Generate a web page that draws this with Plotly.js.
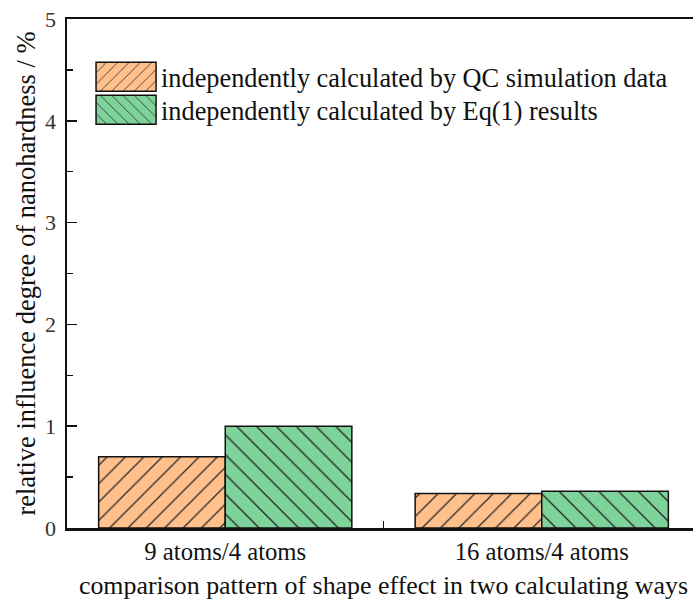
<!DOCTYPE html>
<html>
<head>
<meta charset="utf-8">
<script src="https://cdn.plot.ly/plotly-3.0.1.min.js"></script>
<style>
html,body{margin:0;padding:0;overflow:hidden;background:#fff;width:693px;height:609px;}
#chart{width:700px;height:609px;}
</style>
</head>
<body>
<div id="chart"></div>
<script>
// ---- data ----
var categories = ['9 atoms/4 atoms', '16 atoms/4 atoms'];
var seriesNames = ['independently calculated by QC simulation data',
                   'independently calculated by Eq(1) results'];
var qcValues = [0.70, 0.34];
var eqValues = [1.00, 0.36];
var yTickVals = [0, 1, 2, 3, 4, 5];

var FONT = "'Liberation Serif', 'Times New Roman', serif";
var ORANGE = '#FFC08C';
var GREEN = '#7ED39B';

var traceQC = {
  type: 'bar',
  name: seriesNames[0],
  x: categories,
  y: qcValues,
  marker: {
    color: ORANGE,
    line: {color: '#111', width: 1.5},
    pattern: {shape: '/', fgcolor: '#2a2a2a', bgcolor: ORANGE, size: 13, solidity: 0.1}
  },
  hoverinfo: 'skip'
};
var traceEq = {
  type: 'bar',
  name: seriesNames[1],
  x: categories,
  y: eqValues,
  marker: {
    color: GREEN,
    line: {color: '#111', width: 1.5},
    pattern: {shape: '\\', fgcolor: '#2a2a2a', bgcolor: GREEN, size: 14, solidity: 0.1}
  },
  hoverinfo: 'skip'
};

var layout = {
  width: 700,
  height: 609,
  margin: {l: 67, r: 0, t: 19, b: 81, pad: 0},
  paper_bgcolor: '#fff',
  plot_bgcolor: '#fff',
  barmode: 'group',
  bargap: 0.2,
  bargroupgap: 0,
  showlegend: true,
  font: {family: FONT, color: '#111', size: 24},
  legend: {
    x: 0.038, y: 0.925, xanchor: 'left', yanchor: 'top',
    bgcolor: 'rgba(0,0,0,0)', borderwidth: 0,
    font: {family: FONT, size: 26.3, color: '#111'},
    itemwidth: 60, tracegroupgap: 0,
    traceorder: 'normal'
  },
  xaxis: {
    type: 'category',
    range: [-0.5, 1.5],
    showline: true, linecolor: '#111', linewidth: 2.5,
    mirror: true,
    showgrid: false, zeroline: false,
    ticks: 'inside', tickson: 'boundaries', ticklen: 7, tickwidth: 1.5, tickcolor: '#111',
    tickfont: {family: FONT, size: 24.7, color: '#111'},
    title: {text: 'comparison pattern of shape effect in two calculating ways',
            font: {family: FONT, size: 25.9, color: '#111'}, standoff: 12},
    fixedrange: true
  },
  yaxis: {
    range: [0, 5],
    tickmode: 'array', tickvals: yTickVals,
    showline: true, linecolor: '#111', linewidth: 2.5,
    showgrid: false, zeroline: false,
    ticks: 'inside', ticklen: 10, tickwidth: 1.5, tickcolor: '#111',
    minor: {dtick: 0.5, ticks: 'inside', ticklen: 6, tickwidth: 1.5, tickcolor: '#111', showgrid: false},
    tickfont: {family: FONT, size: 22, color: '#333'},
    ticklabelstandoff: 4,
    title: {text: 'relative influence degree of nanohardness / %',
            font: {family: FONT, size: 26.5, color: '#111'}, standoff: 2},
    fixedrange: true
  }
};

Plotly.newPlot('chart', [traceQC, traceEq], layout, {staticPlot: true, displayModeBar: false}).then(function(gd){
  // enlarge legend swatches to match the reference
  var paths = gd.querySelectorAll('.legend .legendpoints path');
  paths.forEach(function(p){
    p.setAttribute('d', 'M30,14.5H-30V-14.5H30Z');
  });
  var pts = gd.querySelectorAll('.legend .legendpoints');
  pts.forEach(function(g){
    g.setAttribute('transform', 'translate(0,0)');
  });
  // tighten legend row spacing
  var items = gd.querySelectorAll('.legend .traces');
  var y0 = null;
  items.forEach(function(g, i){
    var t = g.getAttribute('transform') || '';
    var m = t.match(/translate\(\s*([-\d.]+)[ ,]+([-\d.]+)\s*\)/);
    if (!m) return;
    var x = parseFloat(m[1]), y = parseFloat(m[2]);
    if (y0 === null) y0 = y;
    g.setAttribute('transform', 'translate(' + x + ',' + (y0 - 4 + i * 33) + ')');
  });
});
</script>
</body>
</html>
